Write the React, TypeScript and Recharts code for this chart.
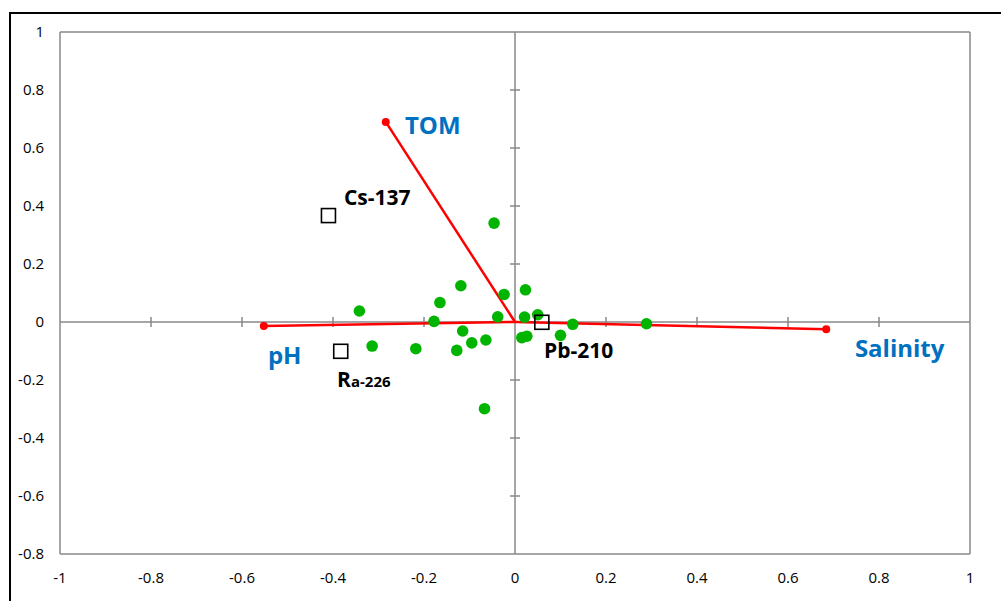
import React from "react";
import { ScatterChart, Scatter, XAxis, YAxis, ReferenceLine } from "recharts";

const xTicks = [-1, -0.8, -0.6, -0.4, -0.2, 0, 0.2, 0.4, 0.6, 0.8, 1];
const yTicks = [-0.8, -0.6, -0.4, -0.2, 0, 0.2, 0.4, 0.6, 0.8, 1];

const samples = [
  { x: -0.046, y: 0.341 },
  { x: -0.119, y: 0.125 },
  { x: -0.165, y: 0.067 },
  { x: -0.178, y: 0.002 },
  { x: -0.024, y: 0.095 },
  { x: 0.023, y: 0.111 },
  { x: -0.038, y: 0.018 },
  { x: 0.021, y: 0.017 },
  { x: 0.05, y: 0.025 },
  { x: 0.127, y: -0.008 },
  { x: 0.1, y: -0.046 },
  { x: 0.015, y: -0.054 },
  { x: 0.026, y: -0.049 },
  { x: -0.115, y: -0.031 },
  { x: -0.064, y: -0.062 },
  { x: -0.095, y: -0.072 },
  { x: -0.128, y: -0.098 },
  { x: -0.218, y: -0.092 },
  { x: -0.067, y: -0.299 },
  { x: -0.342, y: 0.038 },
  { x: -0.314, y: -0.083 },
  { x: 0.289, y: -0.006 },
];

const variables = [
  { name: "TOM", x: -0.284, y: 0.69 },
  { name: "pH", x: -0.552, y: -0.014 },
  { name: "Salinity", x: 0.684, y: -0.025 },
];

const nuclides = [
  { name: "Cs-137", x: -0.41, y: 0.367 },
  { name: "Ra-226", x: -0.383, y: -0.101 },
  { name: "Pb-210", x: 0.059, y: -0.001 },
];

const labels = [
  { text: "TOM", x: -0.242, y: 0.681, color: "#0070C0", size: 24 },
  { text: "Cs-137", x: -0.376, y: 0.43, color: "#000000", size: 21 },
  { text: "pH", x: -0.543, y: -0.112, color: "#0070C0", size: 24 },
  { text: "Ra-226", x: -0.391, y: -0.197, color: "#000000", size: 21 },
  { text: "Pb-210", x: 0.064, y: -0.095, color: "#000000", size: 21 },
  { text: "Salinity", x: 0.747, y: -0.087, color: "#0070C0", size: 24 },
];

const GREY = "#888888";
const FONT = "'Open Sans', 'Noto Sans', sans-serif";

const xTickHalf = 0.0172;
const yTickHalf = 0.011;

const GreenDot = (p: any) => <circle cx={p.cx} cy={p.cy} r={5.8} fill="#00B400" />;

const EndDot = (p: any) =>
  p.payload && p.payload.end ? <circle cx={p.cx} cy={p.cy} r={4} fill="#FF0000" /> : <g />;

const Square = (p: any) => (
  <rect x={p.cx - 7} y={p.cy - 7} width={14} height={14} fill="none" stroke="#000000" strokeWidth={1.6} />
);

const LabelShape = (p: any) => {
  const d = p.payload;
  if (d.text === "Ra-226") {
    return (
      <text x={p.cx} y={p.cy} dominantBaseline="central" fontFamily={FONT} fontWeight={700} fill={d.color}>
        <tspan fontSize={d.size}>R</tspan>
        <tspan fontSize={15} dy={2}>a-226</tspan>
      </text>
    );
  }
  return (
    <text x={p.cx} y={p.cy} dominantBaseline="central" fontFamily={FONT} fontWeight={700} fontSize={d.size} fill={d.color}>
      {d.text}
    </text>
  );
};

const fmt = (v: number) => String(v);

export default function App() {
  return (
    <div style={{ position: "fixed", left: 0, top: 0, width: 1001, height: 601, overflow: "hidden", background: "#fff" }}>
      <div
        style={{
          position: "absolute",
          left: 9,
          top: 12,
          width: 1100,
          height: 700,
          borderTop: "2px solid #000",
          borderLeft: "2px solid #000",
        }}
      />
      <div style={{ position: "absolute", left: 0, top: 0 }}>
        <ScatterChart width={1001} height={601} margin={{ top: 32, right: 31, bottom: 17, left: 8 }}>
          <XAxis
            type="number"
            dataKey="x"
            domain={[-1, 1]}
            ticks={xTicks}
            tickFormatter={fmt}
            axisLine={false}
            tickLine={false}
            tickMargin={12}
            height={30}
            interval={0}
            tick={{ fill: "#000", fontSize: 15, fontFamily: FONT }}
            allowDataOverflow
          />
          <YAxis
            type="number"
            dataKey="y"
            domain={[-0.8, 1]}
            ticks={yTicks}
            tickFormatter={fmt}
            axisLine={false}
            tickLine={false}
            tickMargin={10}
            width={52}
            interval={0}
            tick={{ fill: "#000", fontSize: 15, fontFamily: FONT }}
            allowDataOverflow
          />
          <ReferenceLine x={-1} stroke={GREY} strokeWidth={1.5} ifOverflow="visible" />
          <ReferenceLine x={1} stroke={GREY} strokeWidth={1.5} ifOverflow="visible" />
          <ReferenceLine y={1} stroke={GREY} strokeWidth={1.5} ifOverflow="visible" />
          <ReferenceLine y={-0.8} stroke={GREY} strokeWidth={1.5} ifOverflow="visible" />
          <ReferenceLine x={0} stroke={GREY} strokeWidth={1.5} />
          <ReferenceLine y={0} stroke={GREY} strokeWidth={1.5} />
          {xTicks
            .filter((t) => t !== 0 && t !== -1 && t !== 1)
            .map((t) => (
              <ReferenceLine
                key={"xt" + t}
                segment={[
                  { x: t, y: -xTickHalf },
                  { x: t, y: xTickHalf },
                ]}
                stroke={GREY}
                strokeWidth={1.5}
              />
            ))}
          {yTicks
            .filter((t) => t !== 0 && t !== -0.8 && t !== 1)
            .map((t) => (
              <ReferenceLine
                key={"yt" + t}
                segment={[
                  { x: -yTickHalf, y: t },
                  { x: yTickHalf, y: t },
                ]}
                stroke={GREY}
                strokeWidth={1.5}
              />
            ))}
          {variables.map((v) => (
            <Scatter
              key={v.name}
              data={[
                { x: 0, y: 0, end: false },
                { x: v.x, y: v.y, end: true },
              ]}
              line={{ stroke: "#FF0000", strokeWidth: 2.5 }}
              shape={EndDot}
              isAnimationActive={false}
            />
          ))}
          <Scatter data={samples} shape={GreenDot} isAnimationActive={false} />
          <Scatter data={nuclides} shape={Square} isAnimationActive={false} />
          <Scatter data={labels} shape={LabelShape} isAnimationActive={false} />
        </ScatterChart>
      </div>
    </div>
  );
}
